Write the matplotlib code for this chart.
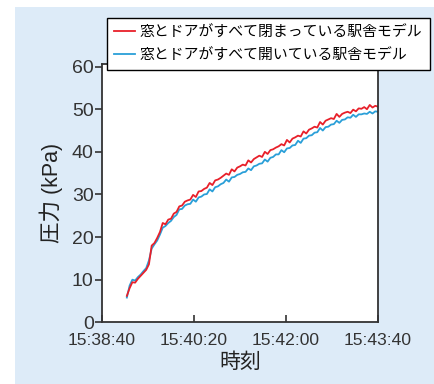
'''pressure rise in station building model'''
import numpy as np
import matplotlib
matplotlib.use('Agg')
import matplotlib.pyplot as plt
from matplotlib.patches import Rectangle

plt.rcParams['font.family'] = ['Liberation Sans', 'Noto Sans CJK JP', 'DejaVu Sans']

# seconds after 15:38:40
t_start, t_step = 27, 3

closed_kpa = [6.2, 8.0, 9.4, 9.3, 10.2, 10.9, 11.6, 12.3, 13.6, 18.0, 18.6, 19.8, 21.2, 23.3, 23.0, 24.1,
              24.3, 25.5, 25.9, 27.2,
              27.4, 28.3, 28.6, 28.8, 29.9, 29.4, 30.7, 30.8, 31.3, 31.6, 32.7, 32.2, 33.3, 33.5, 33.9, 34.4,
              34.9, 34.6, 35.9, 35.4, 36.3, 36.6, 37.0, 36.8, 38.0, 37.5, 38.3, 38.7, 39.1, 38.8, 40.0, 39.5,
              40.4, 40.6, 41.0, 41.3, 41.8, 41.5, 42.8, 42.2, 43.1, 43.4, 43.8, 43.6, 44.8, 44.3, 45.2, 45.5,
              45.9, 45.7, 47.0, 46.4, 47.3, 47.6, 47.9, 47.7, 48.9, 48.2, 48.9, 49.2, 49.4, 49.1, 49.9, 49.5,
              50.2, 50.1, 50.5, 50.0, 51.0, 50.4, 50.8, 50.6]

open_kpa = [5.8, 8.6, 10.0, 9.8, 10.6, 11.2, 12.0, 12.7, 14.5, 17.3, 18.3, 19.2, 20.6, 22.2, 22.6, 23.3,
            23.8, 24.7, 25.2, 26.5,
            26.6, 27.4, 27.7, 27.8, 28.8, 28.3, 29.3, 29.5, 30.0, 30.1, 31.2, 30.7, 31.7, 31.9, 32.4, 32.7,
            33.5, 33.0, 34.0, 34.1, 34.6, 34.8, 35.2, 35.3, 36.1, 35.7, 36.6, 36.8, 37.2, 37.3, 38.2, 37.7,
            38.6, 38.8, 39.4, 39.4, 40.4, 39.9, 40.8, 40.9, 41.5, 41.6, 42.6, 42.1, 43.1, 43.2, 43.8, 43.9,
            44.5, 44.6, 45.6, 45.0, 45.8, 45.9, 46.4, 46.5, 47.3, 46.8, 47.5, 47.6, 48.1, 48.0, 48.7, 48.2,
            48.8, 48.8, 49.0, 48.9, 49.4, 49.0, 49.5, 49.4]

xtick_pos = [0, 100, 200, 300]
xtick_labels = ['15:38:40', '15:40:20', '15:42:00', '15:43:40']
ytick_pos = [0, 10, 20, 30, 40, 50, 60]

labels = ['窓とドアがすべて閉まっている駅舎モデル', '窓とドアがすべて開いている駅舎モデル']
colors = ['#E8202A', '#2A9FD8']

t_closed = t_start + t_step * np.arange(len(closed_kpa))
t_open = t_start + t_step * np.arange(len(open_kpa))

fig = plt.figure(figsize=(4.35, 3.84), dpi=100, facecolor='white')
fig.patches.append(Rectangle((15/435, 0), 1, 1 - 7/384, transform=fig.transFigure,
                             facecolor='#DDEBF8', edgecolor='none', zorder=-1))
ax = fig.add_axes([0.2345, 0.1607, 0.6345, 0.6725])

l2, = ax.plot(t_open, open_kpa, color=colors[1], lw=1.3)
l1, = ax.plot(t_closed, closed_kpa, color=colors[0], lw=1.3)

ax.set_xlim(0, 300)
ax.set_ylim(0, 60.6)
ax.set_xticks(xtick_pos)
ax.set_xticklabels(xtick_labels)
ax.set_yticks(ytick_pos)
ax.tick_params(axis='x', direction='in', length=5, width=1.2, pad=8, labelsize=12.6, colors='#333333')
ax.tick_params(axis='y', direction='out', length=5, width=1.2, pad=1, labelsize=14, colors='#333333')
for s in ax.spines.values():
    s.set_linewidth(1.3)
    s.set_color('#333333')

ax.set_ylabel('圧力 (kPa)', fontsize=15.5, color='#222222', labelpad=6)
ax.set_xlabel('時刻', fontsize=15, color='#222222', labelpad=2,
              family=['Noto Sans CJK JP'])

leg = ax.legend([l1, l2], labels, loc='upper left', bbox_to_anchor=(0.246, 0.953),
                bbox_transform=fig.transFigure, borderaxespad=0, fancybox=False,
                framealpha=1, edgecolor='black', prop={'family': 'Noto Sans CJK JP', 'size': 10.7},
                handlelength=1.4, handletextpad=0.3, borderpad=0.5, labelspacing=0.6)
leg.get_frame().set_linewidth(1.0)
leg.set_zorder(5)

plt.savefig('out.png', dpi=100, facecolor=fig.get_facecolor())
